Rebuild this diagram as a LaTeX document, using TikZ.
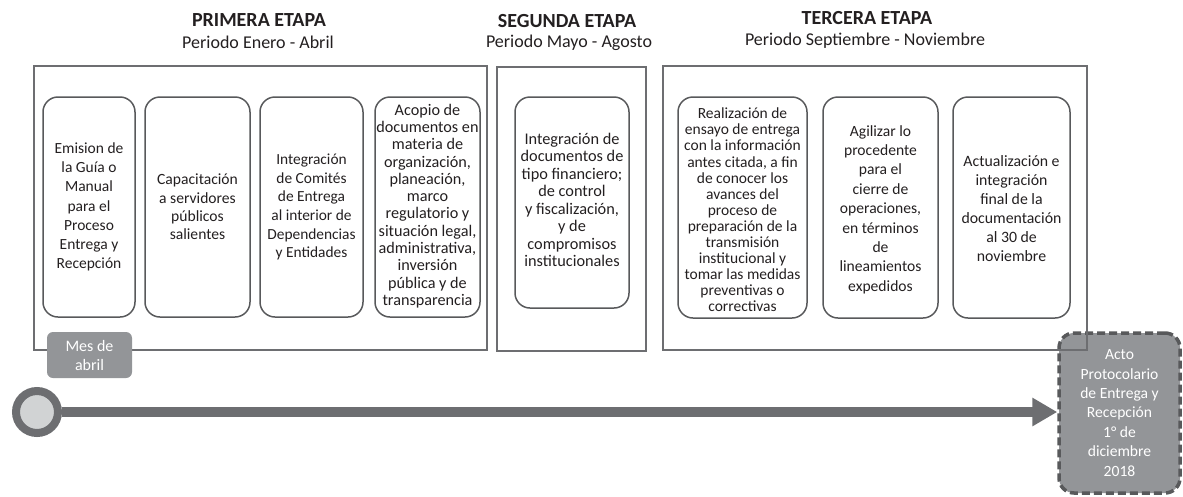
\documentclass[tikz,border=0pt]{standalone}
\usepackage{fontspec}
\setmainfont{Carlito}
\usetikzlibrary{arrows.meta}
\definecolor{framegray}{HTML}{6D6E71}
\definecolor{boxgray}{HTML}{58595B}
\definecolor{fillgray}{HTML}{939598}
\definecolor{lightgray2}{HTML}{D1D3D4}
\definecolor{txt}{HTML}{231F20}
\tikzset{
  stageframe/.style={draw=framegray, line width=2pt, minimum width=#1, inner sep=0pt, minimum height=284pt},
  taskbox/.style={draw=boxgray, line width=1.5pt, rounded corners=15pt, inner sep=0pt},
  tasktext/.style n args={2}{align=center, inner sep=0pt, text=txt, font=\fontsize{#1}{#2}\selectfont},
  ttl/.style={font=\fontsize{20}{22}\selectfont\bfseries, text=txt, inner sep=0pt},
  sub/.style={font=\fontsize{18}{20}\selectfont, text=txt, inner sep=0pt},
  graybox/.style={fill=fillgray, text=white, align=center, inner sep=0pt}
}
\begin{document}
\begin{tikzpicture}[x=1pt,y=-1pt]
\useasboundingbox (0,0) rectangle (1183,496);
% titles
\node[ttl] (t1) at (259,20) {PRIMERA ETAPA};
\node[sub] (s1) at (258,42) {Periodo Enero - Abril};
\node[ttl] (t2) at (567,21) {SEGUNDA ETAPA};
\node[sub] (s2) at (569,43) {Periodo Mayo - Agosto};
\node[ttl] (t3) at (867,18) {TERCERA ETAPA};
\node[sub] (s3) at (865,41) {Periodo Septiembre - Noviembre};
% final box
\node[graybox, rounded corners=15pt, draw=boxgray, line width=3.5pt, dash pattern=on 8pt off 4pt,
  minimum width=121pt, minimum height=160pt, font=\fontsize{15.6}{19.4}\selectfont] (acto) at (1119.5,413)
  {Acto\\Protocolario\\de Entrega y\\Recepción\\1° de\\diciembre\\2018};
% stage frames
\node[stageframe=453pt] (r1) at (260.5,208) {};
\node[stageframe=149pt] (r2) at (571.5,208.5) {};
\node[stageframe=424pt] (r3) at (875,208) {};
% stage 1 boxes
\node[taskbox, minimum width=92pt, minimum height=220pt] (a1) at (89,207) {};
\node[tasktext={15.5}{19.2}] (a1t) at (a1) {Emision de\\la Guía o\\Manual\\para el\\Proceso\\Entrega y\\Recepción};
\node[taskbox, minimum width=105pt, minimum height=220pt] (a2) at (197.5,207) {};
\node[tasktext={15.6}{18.3}] (a2t) at (a2) {Capacitación\\a servidores\\públicos\\salientes};
\node[taskbox, minimum width=103pt, minimum height=220pt] (a3) at (311.5,207) {};
\node[tasktext={15.4}{18.7}] (a3t) at (a3) {Integración\\de Comités\\de Entrega\\al interior de\\Dependencias\\y Entidades};
\node[taskbox, minimum width=105pt, minimum height=220pt] (a4) at (427.5,207) {};
\node[tasktext={16.2}{17.3}] (a4t) at (427.5,206) {Acopio de\\documentos en\\materia de\\organización,\\planeación,\\marco\\regulatorio y\\situación legal,\\administrativa,\\inversión\\pública y de\\transparencia};
% stage 2 box
\node[taskbox, minimum width=114pt, minimum height=211pt] (b1) at (572,202.5) {};
\node[tasktext={16.3}{17.5}] (b1t) at (572,200) {Integración de\\documentos de\\tipo financiero;\\de control\\y fiscalización,\\y de\\compromisos\\institucionales};
% stage 3 boxes
\node[taskbox, minimum width=129pt, minimum height=221pt] (c1) at (742.5,207.5) {};
\node[tasktext={15.5}{16.1}] (c1t) at (742.5,210) {Realización de\\ensayo de entrega\\con la información\\antes citada, a fin\\de conocer los\\avances del\\proceso de\\preparación de la\\transmisión\\institucional y\\tomar las medidas\\preventivas o\\correctivas};
\node[taskbox, minimum width=115pt, minimum height=221pt] (c2) at (880.5,207.5) {};
\node[tasktext={15.6}{19.4}] (c2t) at (880.5,209.5) {Agilizar lo\\procedente\\para el\\cierre de\\operaciones,\\en términos\\de\\lineamientos\\expedidos};
\node[taskbox, minimum width=117pt, minimum height=221pt] (c3) at (1011.5,207.5) {};
\node[tasktext={15.8}{19}] (c3t) at (1011.5,209) {Actualización e\\integración\\final de la\\documentación\\al 30 de\\noviembre};
% month label
\node[graybox, rounded corners=6pt, minimum width=85pt, minimum height=46pt, font=\fontsize{16}{19}\selectfont] (mes) at (89.5,355) {Mes de\\abril};
% timeline
\node[circle, draw=framegray, fill=lightgray2, line width=8pt, minimum size=42pt, inner sep=0pt] (start) at (37,412) {};
\draw[framegray, line width=10pt, -{Triangle[width=27pt,length=25pt]}] (start.east) -- (start -| acto.west);
\end{tikzpicture}
\end{document}
